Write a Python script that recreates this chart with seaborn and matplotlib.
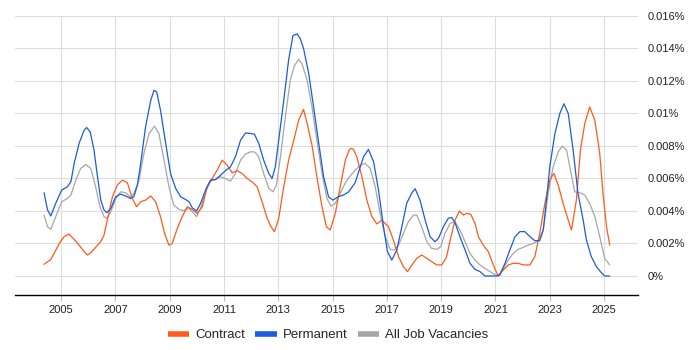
import matplotlib
matplotlib.use("Agg")
import matplotlib.pyplot as plt
from matplotlib.lines import Line2D
from matplotlib.ticker import FuncFormatter, MultipleLocator
import seaborn as sns
import pandas as pd

# ---------------- data (values in %) ----------------
perm_years = [2004.37, 2004.50, 2004.62, 2004.80, 2005.02, 2005.23, 2005.36, 2005.48, 2005.66, 2005.85,
              2005.94, 2006.07, 2006.21, 2006.34, 2006.46, 2006.58, 2006.68, 2006.83, 2007.01, 2007.19,
              2007.38, 2007.56, 2007.68, 2007.81, 2007.93, 2008.11, 2008.30, 2008.42, 2008.52, 2008.66,
              2008.85, 2009.03, 2009.22, 2009.40, 2009.58, 2009.71, 2009.83, 2009.99, 2010.135, 2010.32,
              2010.50, 2010.69, 2010.87, 2011.05, 2011.24, 2011.42, 2011.61, 2011.79, 2011.97, 2012.12,
              2012.28, 2012.46, 2012.65, 2012.77, 2012.89, 2013.015, 2013.20, 2013.38, 2013.54, 2013.69,
              2013.81, 2013.93, 2014.12, 2014.30, 2014.49, 2014.67, 2014.85, 2015.01, 2015.22, 2015.40,
              2015.59, 2015.83, 2016.02, 2016.14, 2016.32, 2016.51, 2016.69, 2016.875, 2017.02, 2017.18,
              2017.365, 2017.55, 2017.73, 2017.92, 2018.04, 2018.22, 2018.41, 2018.59, 2018.77, 2018.90,
              2019.08, 2019.26, 2019.39, 2019.51, 2019.69, 2019.88, 2020.06, 2020.245, 2020.43, 2020.61,
              2020.80, 2021.04, 2021.16, 2021.35, 2021.53, 2021.72, 2021.90, 2022.08, 2022.27, 2022.45,
              2022.63, 2022.76, 2022.88, 2023.00, 2023.19, 2023.37, 2023.52, 2023.68, 2023.86, 2024.04,
              2024.23, 2024.35, 2024.53, 2024.72, 2024.90, 2025.02, 2025.21]
perm_values = [0.00512, 0.00406, 0.00369, 0.00447, 0.00529, 0.00549, 0.00580, 0.00693, 0.00816, 0.00898,
               0.00914, 0.00887, 0.00775, 0.00610, 0.00467, 0.00406, 0.00390, 0.00416, 0.00488, 0.00504,
               0.00492, 0.00477, 0.00488, 0.00560, 0.00693, 0.00918, 0.01080, 0.01143, 0.01133, 0.01020,
               0.00816, 0.00630, 0.00539, 0.00488, 0.00471, 0.00457, 0.00420, 0.00400, 0.00447, 0.00529,
               0.00590, 0.00594, 0.00620, 0.00648, 0.00672, 0.00734, 0.00836, 0.00880, 0.00877, 0.00873,
               0.00816, 0.00713, 0.00631, 0.00600, 0.00672, 0.00836, 0.01080, 0.01330, 0.01480, 0.01490,
               0.01460, 0.01400, 0.01246, 0.01040, 0.00816, 0.00610, 0.00488, 0.00467, 0.00488, 0.00498,
               0.00518, 0.00574, 0.00672, 0.00734, 0.00779, 0.00703, 0.00529, 0.00303, 0.00150, 0.00098,
               0.00160, 0.00303, 0.00447, 0.00512, 0.00537, 0.00467, 0.00344, 0.00242, 0.00211, 0.00232,
               0.00303, 0.00355, 0.00360, 0.00328, 0.00242, 0.00160, 0.00078, 0.00041, 0.00027, 0.00000,
               0.00000, 0.00000, 0.00006, 0.00078, 0.00160, 0.00242, 0.00273, 0.00273, 0.00242, 0.00217,
               0.00217, 0.00283, 0.00467, 0.00672, 0.00877, 0.01000, 0.01060, 0.01000, 0.00775, 0.00508,
               0.00344, 0.00221, 0.00119, 0.00057, 0.00020, 0.00000, 0.00000]

contract_years = [2004.37, 2004.50, 2004.62, 2004.74, 2004.93, 2005.11, 2005.29, 2005.48, 2005.66, 2005.85,
                  2005.97, 2006.09, 2006.27, 2006.46, 2006.58, 2006.70, 2006.89, 2007.07, 2007.26, 2007.44,
                  2007.62, 2007.78, 2007.93, 2008.11, 2008.30, 2008.48, 2008.66, 2008.81, 2008.97, 2009.09,
                  2009.28, 2009.46, 2009.645, 2009.83, 2010.01, 2010.20, 2010.38, 2010.56, 2010.75, 2010.93,
                  2011.115, 2011.30, 2011.48, 2011.67, 2011.85, 2012.03, 2012.22, 2012.40, 2012.59, 2012.73,
                  2012.86, 2013.015, 2013.20, 2013.38, 2013.57, 2013.75, 2013.93, 2014.06, 2014.24, 2014.42,
                  2014.61, 2014.77, 2014.91, 2015.10, 2015.28, 2015.47, 2015.62, 2015.70, 2015.77, 2015.89,
                  2016.08, 2016.26, 2016.45, 2016.63, 2016.81, 2017.06, 2017.24, 2017.43, 2017.61, 2017.76,
                  2017.92, 2018.10, 2018.28, 2018.47, 2018.65, 2018.84, 2019.02, 2019.20, 2019.33, 2019.51,
                  2019.67, 2019.82, 2019.94, 2020.09, 2020.245, 2020.37, 2020.55, 2020.735, 2020.92, 2021.10,
                  2021.29, 2021.47, 2021.65, 2021.84, 2022.02, 2022.27, 2022.45, 2022.63, 2022.82, 2023.00,
                  2023.15, 2023.31, 2023.49, 2023.68, 2023.80, 2023.98, 2024.13, 2024.29, 2024.47, 2024.66,
                  2024.84, 2024.96, 2025.09, 2025.21]
contract_values = [0.00072, 0.00088, 0.00102, 0.00139, 0.00200, 0.00242, 0.00258, 0.00225, 0.00190, 0.00150,
                   0.00129, 0.00143, 0.00176, 0.00211, 0.00252, 0.00344, 0.00488, 0.00560, 0.00590, 0.00574,
                   0.00477, 0.00426, 0.00457, 0.00467, 0.00492, 0.00457, 0.00365, 0.00262, 0.00190, 0.00200,
                   0.00293, 0.00365, 0.00426, 0.00410, 0.00385, 0.00426, 0.00549, 0.00600, 0.00652, 0.00713,
                   0.00682, 0.00635, 0.00648, 0.00631, 0.00600, 0.00580, 0.00549, 0.00457, 0.00355, 0.00303,
                   0.00273, 0.00355, 0.00549, 0.00713, 0.00836, 0.00959, 0.01025, 0.00939, 0.00805, 0.00610,
                   0.00426, 0.00303, 0.00283, 0.00385, 0.00549, 0.00713, 0.00779, 0.00785, 0.00779, 0.00734,
                   0.00610, 0.00467, 0.00365, 0.00320, 0.00344, 0.00303, 0.00221, 0.00119, 0.00057, 0.00027,
                   0.00068, 0.00109, 0.00129, 0.00109, 0.00088, 0.00068, 0.00068, 0.00119, 0.00221, 0.00344,
                   0.00400, 0.00375, 0.00385, 0.00380, 0.00324, 0.00242, 0.00190, 0.00150, 0.00068, 0.00000,
                   0.00037, 0.00068, 0.00078, 0.00078, 0.00068, 0.00068, 0.00119, 0.00262, 0.00447, 0.00590,
                   0.00631, 0.00560, 0.00447, 0.00344, 0.00283, 0.00467, 0.00775, 0.00939, 0.01040, 0.00959,
                   0.00754, 0.00508, 0.00303, 0.00190]

all_years = [2004.37, 2004.50, 2004.62, 2004.80, 2005.02, 2005.23, 2005.36, 2005.54, 2005.72, 2005.91,
             2006.09, 2006.27, 2006.43, 2006.58, 2006.68, 2006.83, 2007.01, 2007.19, 2007.38, 2007.56,
             2007.68, 2007.87, 2008.05, 2008.24, 2008.44, 2008.60, 2008.79, 2008.97, 2009.15, 2009.34,
             2009.52, 2009.71, 2009.83, 2009.99, 2010.135, 2010.32, 2010.50, 2010.69, 2010.87, 2011.05,
             2011.24, 2011.42, 2011.61, 2011.79, 2011.97, 2012.12, 2012.28, 2012.46, 2012.65, 2012.81,
             2012.93, 2013.08, 2013.26, 2013.44, 2013.60, 2013.75, 2013.87, 2014.06, 2014.24, 2014.42,
             2014.61, 2014.79, 2014.94, 2015.10, 2015.28, 2015.47, 2015.62, 2015.83, 2016.02, 2016.20,
             2016.385, 2016.57, 2016.75, 2016.94, 2017.12, 2017.27, 2017.43, 2017.61, 2017.79, 2017.98,
             2018.10, 2018.28, 2018.47, 2018.65, 2018.84, 2018.98, 2019.14, 2019.33, 2019.51, 2019.69,
             2019.88, 2020.06, 2020.245, 2020.43, 2020.61, 2020.80, 2020.94, 2021.10, 2021.29, 2021.47,
             2021.65, 2021.84, 2022.02, 2022.21, 2022.39, 2022.57, 2022.76, 2022.94, 2023.125, 2023.31,
             2023.46, 2023.62, 2023.76, 2023.92, 2024.105, 2024.29, 2024.47, 2024.66, 2024.84, 2025.02,
             2025.21]
all_values = [0.00375, 0.00303, 0.00287, 0.00365, 0.00457, 0.00477, 0.00498, 0.00590, 0.00662, 0.00686,
              0.00662, 0.00549, 0.00426, 0.00365, 0.00355, 0.00395, 0.00477, 0.00518, 0.00512, 0.00484,
              0.00508, 0.00590, 0.00754, 0.00877, 0.00922, 0.00877, 0.00713, 0.00549, 0.00436, 0.00410,
              0.00402, 0.00416, 0.00395, 0.00365, 0.00416, 0.00518, 0.00584, 0.00594, 0.00610, 0.00600,
              0.00584, 0.00631, 0.00713, 0.00750, 0.00764, 0.00764, 0.00734, 0.00631, 0.00539, 0.00518,
              0.00560, 0.00734, 0.00980, 0.01205, 0.01297, 0.01332, 0.01307, 0.01205, 0.01040, 0.00836,
              0.00631, 0.00477, 0.00430, 0.00447, 0.00508, 0.00574, 0.00610, 0.00652, 0.00682, 0.00693,
              0.00662, 0.00549, 0.00385, 0.00242, 0.00164, 0.00160, 0.00190, 0.00262, 0.00334, 0.00375,
              0.00375, 0.00303, 0.00211, 0.00170, 0.00164, 0.00180, 0.00262, 0.00324, 0.00334, 0.00283,
              0.00211, 0.00139, 0.00098, 0.00068, 0.00047, 0.00027, 0.00012, 0.00000, 0.00047, 0.00098,
              0.00139, 0.00164, 0.00176, 0.00190, 0.00200, 0.00217, 0.00283, 0.00508, 0.00672, 0.00764,
              0.00799, 0.00775, 0.00652, 0.00518, 0.00512, 0.00498, 0.00447, 0.00365, 0.00242, 0.00109,
              0.00068]

series_names = ["Contract", "Permanent", "All Job Vacancies"]
series_colors = ["#ff5a1a", "#1a5cdc", "#a6a6a6"]
x_tick_years = list(range(2005, 2026, 2))

# ---------------- build frame ----------------
frames = []
for name, yrs, vals in [("Contract", contract_years, contract_values),
                        ("Permanent", perm_years, perm_values),
                        ("All Job Vacancies", all_years, all_values)]:
    frames.append(pd.DataFrame({"year": yrs, "value": vals, "series": name}))
df = pd.concat(frames, ignore_index=True)

sns.set_theme(style="white")
plt.rcParams["font.family"] = ["Liberation Sans", "DejaVu Sans"]

fig = plt.figure(figsize=(7, 3.5), dpi=100)
ax = fig.add_axes([15 / 700, 1 - 295 / 350, (638 - 15) / 700, (295 - 16) / 350])

palette = dict(zip(series_names, series_colors))
for name in ["All Job Vacancies", "Contract", "Permanent"]:
    sub = df[df["series"] == name]
    sns.lineplot(data=sub, x="year", y="value", color=palette[name], linewidth=0.9,
                 estimator=None, ax=ax, legend=False)

ax.set_xlim(2003.30, 2026.25)
ax.set_ylim(-0.00117, 0.016)
ax.set_xticks(x_tick_years)
ax.set_xticklabels([str(y) for y in x_tick_years])
ax.yaxis.set_major_locator(MultipleLocator(0.002))
ax.yaxis.set_major_formatter(FuncFormatter(lambda v, p: f"{round(v, 5):g}%"))
ax.yaxis.tick_right()
ax.set_xlabel("")
ax.set_ylabel("")

ax.grid(True, color="#dddddd", linewidth=0.8)
ax.set_axisbelow(True)
for s in ["top", "left", "right"]:
    ax.spines[s].set_visible(False)
ax.spines["bottom"].set_color("black")
ax.spines["bottom"].set_linewidth(1.0)

ax.tick_params(axis="y", length=0, pad=7, labelsize=8, labelcolor="#222222")
ax.tick_params(axis="x", length=4, width=0.8, color="#bbbbbb", pad=3, labelsize=8,
               labelcolor="#222222", bottom=True)

handles = [Line2D([0], [0], color=c, lw=4, solid_capstyle="butt") for c in series_colors]
fig.legend(handles, series_names, loc="center", bbox_to_anchor=(328 / 700, 1 - 335 / 350), ncol=3,
           frameon=False, fontsize=9.5, handlelength=1.6, handletextpad=0.45,
           columnspacing=0.8, borderpad=0.2)

fig.savefig("out.png", dpi=100)
